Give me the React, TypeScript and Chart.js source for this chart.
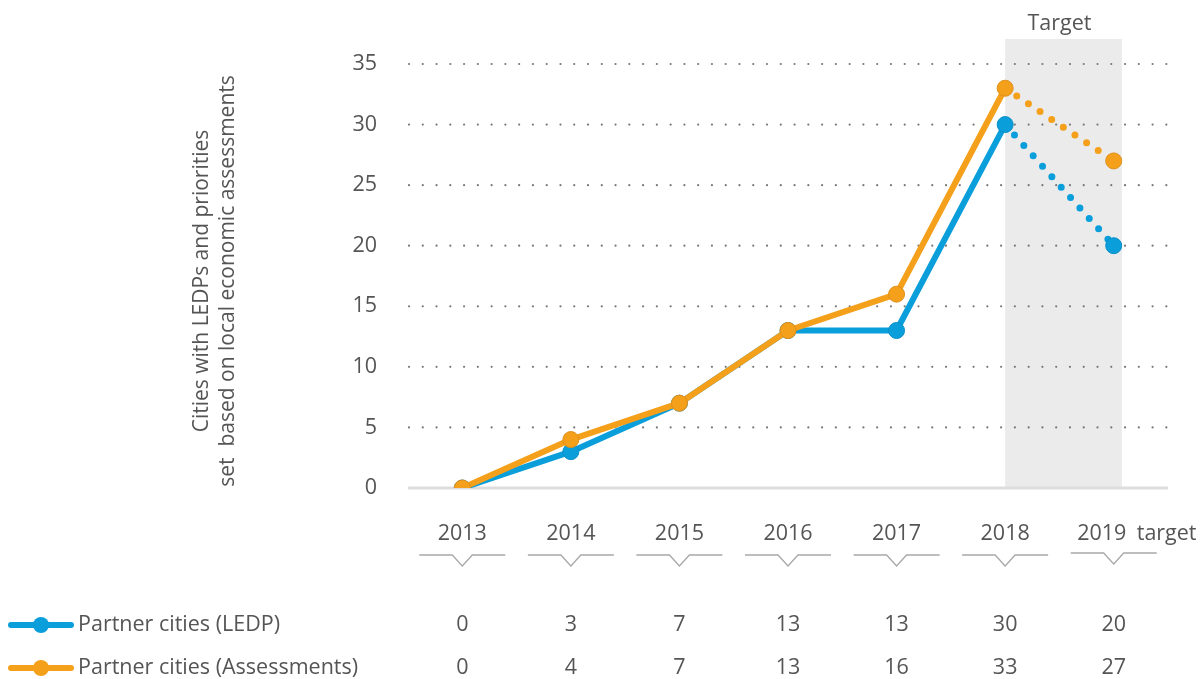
import React, { useEffect, useRef } from 'react';
import { Chart, registerables } from 'chart.js';

Chart.register(...registerables);

// ---- data ----
const years = ['2013', '2014', '2015', '2016', '2017', '2018', '2019'];
const lastYearSuffix = 'target';
const ledp = [0, 3, 7, 13, 13, 30, 20];
const assessments = [0, 4, 7, 13, 16, 33, 27];
const yTicks = [0, 5, 10, 15, 20, 25, 30, 35];
const seriesNames = ['Partner cities (LEDP)', 'Partner cities (Assessments)'];
const yTitleLines = ['Cities with LEDPs and priorities', 'set  based on local economic assessments'];
const targetLabel = 'Target';
const targetStartIndex = 5;

// ---- style ----
const BLUE = '#0a9edb';
const BLUE_EDGE = '#0b8fc7';
const ORANGE = '#f4a01b';
const ORANGE_EDGE = '#e0901a';
const TEXT = '#555555';
const FONT_FAMILY = '"Open Sans", "Noto Sans", sans-serif';
const FONT_SIZE = 21.5;

const seriesColors = [BLUE, ORANGE];
const seriesValues = [ledp, assessments];

const decorPlugin = {
  id: 'decor',
  beforeDatasetsDraw(chart: any) {
    const { ctx, chartArea: ca, scales } = chart;
    const x = scales.x;
    const y = scales.y;
    const step = x.getPixelForValue(1) - x.getPixelForValue(0);
    const bl = x.getPixelForValue(targetStartIndex);
    const br = x.getPixelForValue(years.length - 1) + step * 0.075;
    ctx.save();
    // target band
    ctx.fillStyle = '#ebebeb';
    const bandTop = ca.top - 25;
    ctx.fillRect(bl, bandTop, br - bl, y.getPixelForValue(0) - bandTop);
    // dotted grid lines
    ctx.fillStyle = '#777777';
    yTicks.forEach((v) => {
      if (v === 0) return;
      const py = y.getPixelForValue(v);
      for (let px = ca.left + 1; px <= ca.right; px += 13.77) {
        ctx.beginPath();
        ctx.arc(px, py, 1.1, 0, Math.PI * 2);
        ctx.fill();
      }
    });
    // zero line
    const zy = y.getPixelForValue(0);
    ctx.strokeStyle = '#dddddd';
    ctx.lineWidth = 3;
    ctx.beginPath();
    ctx.moveTo(ca.left, zy);
    ctx.lineTo(ca.right, zy);
    ctx.stroke();
    ctx.restore();
  },
  afterDraw(chart: any) {
    const { ctx, chartArea: ca, scales } = chart;
    const x = scales.x;
    const step = x.getPixelForValue(1) - x.getPixelForValue(0);
    const bl = x.getPixelForValue(targetStartIndex);
    const br = x.getPixelForValue(years.length - 1) + step * 0.075;
    ctx.save();
    ctx.font = `${FONT_SIZE}px ${FONT_FAMILY}`;
    ctx.fillStyle = TEXT;
    ctx.textBaseline = 'middle';

    // Target label
    ctx.textAlign = 'center';
    ctx.fillText(targetLabel, (bl + br) / 2 - 4, ca.top - 40);

    // category labels + chevrons
    const labelY = ca.bottom + 46;
    years.forEach((yr, i) => {
      const px = x.getPixelForValue(i);
      const last = i === years.length - 1;
      ctx.textAlign = 'center';
      if (last) {
        ctx.fillText(yr, px - 12, labelY);
        ctx.textAlign = 'left';
        ctx.fillText(lastYearSuffix, px + 23, labelY);
      } else {
        ctx.fillText(yr, px, labelY);
      }
      const ly = ca.bottom + (last ? 65 : 67);
      ctx.strokeStyle = '#a8a8a8';
      ctx.lineWidth = 1.3;
      ctx.beginPath();
      ctx.moveTo(px - 43, ly);
      ctx.lineTo(px - 10, ly);
      ctx.lineTo(px, ly + 11);
      ctx.lineTo(px + 10, ly);
      ctx.lineTo(px + 43, ly);
      ctx.stroke();
    });

    // legend rows + values table
    const rowYs = [625, 668];
    seriesNames.forEach((name, r) => {
      const ry = rowYs[r];
      const c = seriesColors[r];
      ctx.strokeStyle = c;
      ctx.lineWidth = 6;
      ctx.lineCap = 'round';
      ctx.beginPath();
      ctx.moveTo(11, ry);
      ctx.lineTo(71, ry);
      ctx.stroke();
      ctx.fillStyle = c;
      ctx.beginPath();
      ctx.arc(41, ry, 8, 0, Math.PI * 2);
      ctx.fill();
      ctx.fillStyle = TEXT;
      ctx.textAlign = 'left';
      ctx.fillText(name, 78, ry);
      ctx.textAlign = 'center';
      seriesValues[r].forEach((v, i) => {
        ctx.fillText(String(v), x.getPixelForValue(i), ry);
      });
    });

    // y axis title
    ctx.translate(202, 281);
    ctx.rotate(-Math.PI / 2);
    ctx.textAlign = 'center';
    ctx.font = `21px ${FONT_FAMILY}`;
    ctx.fillText(yTitleLines[0], 0, 0);
    ctx.fillText(yTitleLines[1], 0, 26);
    ctx.restore();
  },
};

function makeDataset(label: string, data: number[], color: string, edge: string, order: number) {
  return {
    label,
    data,
    order,
    borderColor: color,
    backgroundColor: color,
    borderWidth: 6,
    borderCapStyle: 'round',
    borderJoinStyle: 'round',
    tension: 0,
    pointRadius: 8,
    pointHoverRadius: 8,
    pointBackgroundColor: color,
    pointBorderColor: edge,
    pointBorderWidth: 1,
    segment: {
      borderDash: (c: any) => (c.p0DataIndex >= targetStartIndex ? [0, 14] : undefined),
      borderWidth: (c: any) => (c.p0DataIndex >= targetStartIndex ? 7 : undefined),
    },
  };
}

export default function App() {
  const canvasRef = useRef<HTMLCanvasElement | null>(null);

  useEffect(() => {
    document.body.style.margin = '0';
    const canvas = canvasRef.current;
    if (!canvas) return;
    const chart = new Chart(canvas, {
      type: 'line',
      data: {
        labels: years,
        datasets: [
          makeDataset(seriesNames[0], ledp, BLUE, BLUE_EDGE, 1) as any,
          makeDataset(seriesNames[1], assessments, ORANGE, ORANGE_EDGE, 0) as any,
        ],
      },
      plugins: [decorPlugin],
      options: {
        animation: false,
        responsive: false,
        devicePixelRatio: 1,
        events: [],
        layout: { padding: { left: 0, right: 33, top: 64, bottom: 191 } },
        plugins: {
          legend: { display: false },
          tooltip: { enabled: false },
          title: { display: false },
        },
        scales: {
          x: {
            type: 'category',
            offset: true,
            display: false,
            grid: { display: false },
          },
          y: {
            min: 0,
            max: 35,
            afterFit: (scale: any) => {
              scale.width = 408;
            },
            afterBuildTicks: (scale: any) => {
              scale.ticks = yTicks.map((v) => ({ value: v }));
            },
            grid: { display: false, drawTicks: false },
            border: { display: false },
            ticks: {
              padding: 31,
              color: TEXT,
              font: { family: FONT_FAMILY, size: FONT_SIZE },
            },
          },
        },
      } as any,
    });
    return () => chart.destroy();
  }, []);

  return (
    <div style={{ position: 'absolute', left: 0, top: 0, width: 1201, height: 679, background: '#ffffff' }}>
      <canvas ref={canvasRef} width={1201} height={679} style={{ display: 'block' }} />
    </div>
  );
}
